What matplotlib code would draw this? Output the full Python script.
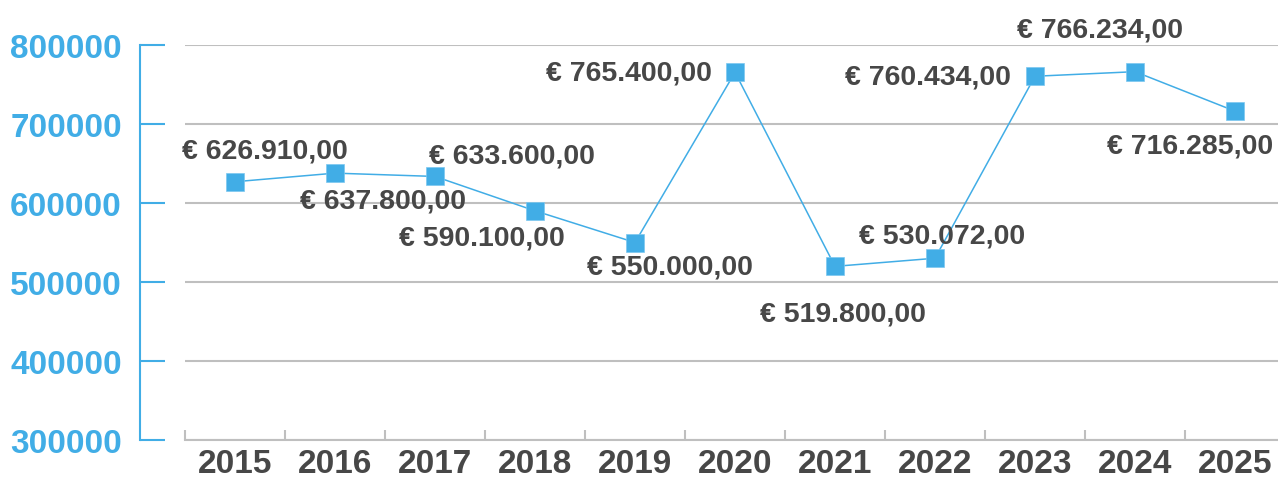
import matplotlib
matplotlib.use("Agg")
import matplotlib.pyplot as plt
from matplotlib.ticker import FixedLocator, NullFormatter

plt.rcParams['font.family'] = ['Liberation Sans', 'DejaVu Sans']

years = ["2015", "2016", "2017", "2018", "2019", "2020", "2021", "2022", "2023", "2024", "2025"]
values = [626910, 637800, 633600, 590100, 550000, 765400, 519800, 530072, 760434, 766234, 716285]
y_ticks = [300000, 400000, 500000, 600000, 700000, 800000]

# label offsets in pixels (dx, dy), dy positive = up
label_offsets = [(30, 31), (48, -27), (77, 21), (-53, -27), (35, -24), (-106, 0),
                 (8, -47), (7, 23), (-107, 0), (-35, 42), (-45, -34)]

BLUE = "#41ade6"
DARK = "#474747"
GRID = "#bfbfbf"


def euro(v):
    s = f"{v:,.2f}"
    s = s.replace(",", "X").replace(".", ",").replace("X", ".")
    return "€ " + s


fig = plt.figure(figsize=(12.78, 4.85), dpi=100)
ax = fig.add_axes([185 / 1278, 44 / 485, 1100 / 1278, 395 / 485])

x = list(range(len(years)))
ax.plot(x, values, color=BLUE, lw=1.1, marker="s", markersize=13,
        markerfacecolor=BLUE, markeredgecolor="#7cc8f0", markeredgewidth=0.5, zorder=3)

for xi, v, (dx, dy) in zip(x, values, label_offsets):
    ax.annotate(euro(v), (xi, v), xytext=(dx, dy), textcoords="offset pixels",
                ha="center", va="center", fontsize=20.5, fontweight="bold", color=DARK)

ax.set_xlim(-0.5, len(years) - 0.5)
ax.set_ylim(300000, 800000)

ax.yaxis.set_major_locator(FixedLocator(y_ticks))
ax.set_yticklabels([str(t) for t in y_ticks])
ax.grid(axis="y", color=GRID, lw=1.5)
ax.set_axisbelow(True)

ax.spines["top"].set_visible(False)
ax.spines["right"].set_visible(False)
ax.spines["left"].set_position(("outward", 45 * 72 / 100))
ax.spines["left"].set_color(BLUE)
ax.spines["left"].set_linewidth(1.5)
ax.spines["bottom"].set_color(GRID)
ax.spines["bottom"].set_linewidth(1.5)

ax.tick_params(axis="y", direction="in", length=18, width=1.5, color=BLUE,
               labelcolor=BLUE, labelsize=24, pad=13)
for lbl in ax.get_yticklabels():
    lbl.set_fontweight("bold")

ax.set_xticks(x)
ax.set_xticklabels(years)
ax.tick_params(axis="x", which="major", length=0, labelcolor=DARK, labelsize=24, pad=6)
for lbl in ax.get_xticklabels():
    lbl.set_fontweight("bold")
ax.xaxis.set_minor_locator(FixedLocator([i - 0.5 for i in range(len(years) + 1)]))
ax.xaxis.set_minor_formatter(NullFormatter())
ax.tick_params(axis="x", which="minor", direction="in", length=7, width=1.5, color=GRID)

fig.savefig("out.png", dpi=100)
